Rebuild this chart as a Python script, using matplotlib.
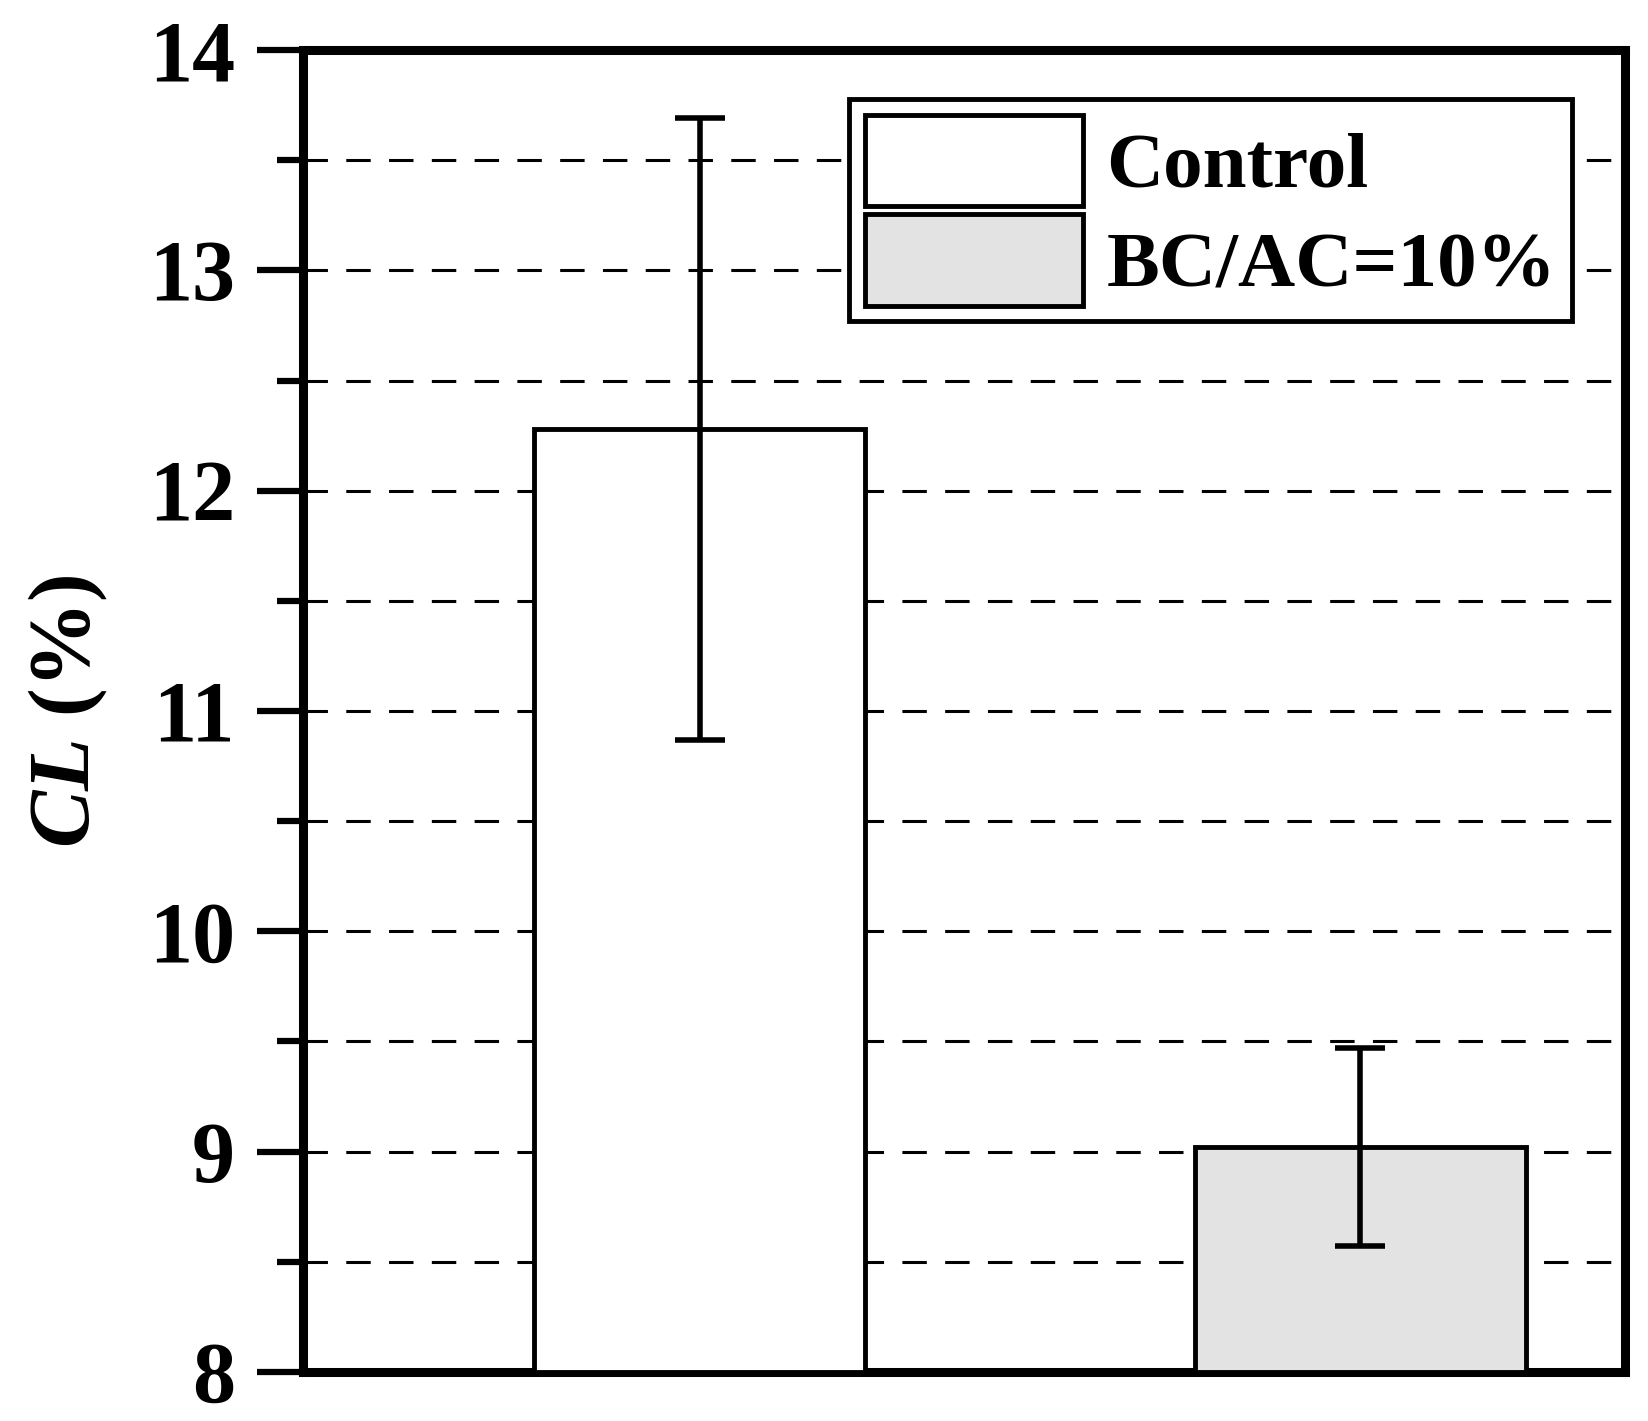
from matplotlib import pyplot as plt
import numpy as np

# dados
groups = ['Control', 'BC/AC=10%']
cl_mean = [12.28, 9.02]
cl_err = [1.41, 0.45]
colors = ['white', '#e3e3e3']

plt.rcParams['font.family'] = 'Liberation Serif'
plt.rcParams['font.weight'] = 'bold'
plt.rcParams['mathtext.fontset'] = 'custom'
plt.rcParams['mathtext.bfit'] = 'Liberation Serif:italic:bold'
plt.rcParams['mathtext.rm'] = 'Liberation Serif:bold'

fig = plt.figure(figsize=(16.48, 14.21), dpi=100)
ax = fig.add_axes([0.1839, 0.0345, 0.802, 0.9303])

x = np.arange(1, len(groups) + 1)
for xi, m, e, c, lab in zip(x, cl_mean, cl_err, colors, groups):
    ax.bar(xi, m - 8, bottom=8, width=0.5, color=c, edgecolor='black',
           linewidth=3.5, label=lab, zorder=3)
    ax.errorbar(xi, m, yerr=e, fmt='none', ecolor='black', elinewidth=4,
                capsize=18, capthick=4, zorder=4)

ax.set_xlim(0.4, 2.4)
ax.set_ylim(8, 14)
ax.set_yticks(np.arange(8, 14.1, 1))
ax.set_yticks(np.arange(8.5, 14, 1), minor=True)
ax.set_xticks([])
ax.tick_params(axis='y', which='major', length=33, width=4.5, labelsize=62, pad=16)
ax.tick_params(axis='y', which='minor', length=19, width=4.5)
for lab in ax.get_yticklabels():
    lab.set_fontweight('bold')

ax.grid(axis='y', which='both', color='black', linewidth=2.2,
        linestyle=(0, (8, 6)), zorder=1)
ax.set_axisbelow(True)

for s in ax.spines.values():
    s.set_linewidth(6.5)

ax.set_ylabel(r'$\mathbfit{CL}$ (%)', fontsize=62, fontweight='bold', labelpad=28)

leg = ax.legend(loc='upper right', bbox_to_anchor=(0.96, 0.963), fontsize=57,
                handlelength=2.75, handleheight=1.4, handletextpad=0.3,
                borderpad=0.2, labelspacing=0.1, borderaxespad=0,
                fancybox=False, framealpha=1, edgecolor='black')
leg.get_frame().set_linewidth(3.5)
for t in leg.get_texts():
    t.set_fontweight('bold')
for h in leg.legend_handles:
    h.set_linewidth(3.5)

plt.savefig('out.png', dpi=100)
